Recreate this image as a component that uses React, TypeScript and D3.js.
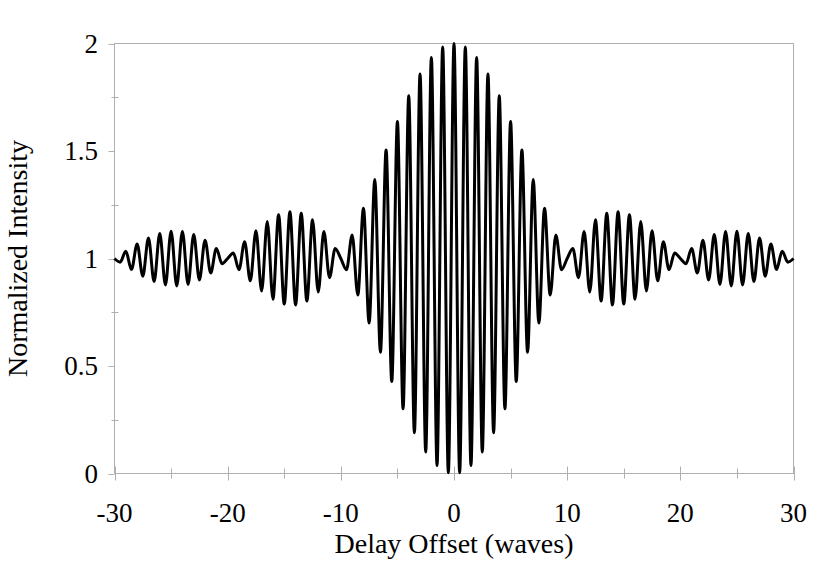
import React from 'react';
import * as d3 from 'd3';

// delay offsets (waves), sampled every half wave from -30 to 30
const delayOffsets: number[] = d3.range(-30, 30.25, 0.5);

const intensity: number[] = [
  1.000, 0.983, 1.034, 0.949, 1.067, 0.918, 1.095, 0.893, 1.116, 0.877,
  1.127, 0.872, 1.126, 0.879, 1.112, 0.900, 1.085, 0.933, 1.047, 0.976,
  1.000, 1.026, 0.948, 1.078, 0.896, 1.129, 0.849, 1.172, 0.811, 1.203,
  0.788, 1.217, 0.784, 1.210, 0.802, 1.180, 0.844, 1.126, 0.911, 1.047,
  1.000, 0.948, 1.109, 0.830, 1.234, 0.700, 1.368, 0.564, 1.505, 0.428,
  1.637, 0.301, 1.757, 0.190, 1.858, 0.100, 1.935, 0.037, 1.984, 0.004,
  2.000,
  0.004, 1.984, 0.037, 1.935, 0.100, 1.858, 0.190, 1.757, 0.301, 1.637,
  0.428, 1.505, 0.564, 1.368, 0.700, 1.234, 0.830, 1.109, 0.948, 1.000,
  1.047, 0.911, 1.126, 0.844, 1.180, 0.802, 1.210, 0.784, 1.217, 0.788,
  1.203, 0.811, 1.172, 0.849, 1.129, 0.896, 1.078, 0.948, 1.026, 1.000,
  0.976, 1.047, 0.933, 1.085, 0.900, 1.112, 0.879, 1.126, 0.872, 1.127,
  0.877, 1.116, 0.893, 1.095, 0.918, 1.067, 0.949, 1.034, 0.983, 1.000,
];

const xTicks = [-30, -20, -10, 0, 10, 20, 30];
const xMinorTicks = [-25, -15, -5, 5, 15, 25];
const yTicks = [0, 0.5, 1, 1.5, 2];
const yMinorTicks = [0.25, 0.75, 1.25, 1.75];

const W = 830;
const H = 569;
const left = 114.5;
const right = 793.5;
const top = 43.5;
const bottom = 473.5;
const font = '"Liberation Serif", "Times New Roman", serif';
const frame = '#b0b0b0';

const App = () => {
  const x = d3.scaleLinear().domain([-30, 30]).range([left, right]);
  const y = d3.scaleLinear().domain([0, 2]).range([bottom, top]);

  const points = delayOffsets.map((d, i) => ({ d, v: intensity[i] }));
  const line = d3.line<{ d: number; v: number }>()
    .x(p => x(p.d))
    .y(p => y(p.v))
    .curve(d3.curveMonotoneX);

  return (
    <svg width={W} height={H} style={{ position: 'absolute', left: 0, top: 0, background: '#fff' }}>
      {/* plot frame */}
      <rect x={left} y={top} width={right - left} height={bottom - top} fill="none" stroke={frame} strokeWidth={1} />

      {/* x ticks */}
      {xTicks.map(t => (
        <line key={'xt' + t} x1={Math.round(x(t)) + 0.5} x2={Math.round(x(t)) + 0.5} y1={bottom - 7} y2={bottom + 7} stroke={frame} />
      ))}
      {xMinorTicks.map(t => (
        <line key={'xm' + t} x1={Math.round(x(t)) + 0.5} x2={Math.round(x(t)) + 0.5} y1={bottom - 5} y2={bottom + 5} stroke={frame} />
      ))}
      {/* y ticks */}
      {yTicks.map(t => (
        <line key={'yt' + t} x1={left - 6} x2={left} y1={Math.round(y(t)) + 0.5} y2={Math.round(y(t)) + 0.5} stroke={frame} />
      ))}
      {yMinorTicks.map(t => (
        <line key={'ym' + t} x1={left - 3} x2={left + 4} y1={Math.round(y(t)) + 0.5} y2={Math.round(y(t)) + 0.5} stroke={frame} />
      ))}

      {/* fringe curve */}
      <path d={line(points) || ''} fill="none" stroke="#000" strokeWidth={3} strokeLinejoin="round" />

      {/* tick labels */}
      {xTicks.map(t => (
        <text key={'xl' + t} x={x(t)} y={522} textAnchor="middle" fontFamily={font} fontSize={27} fill="#000">
          {t}
        </text>
      ))}
      {yTicks.map(t => (
        <text key={'yl' + t} x={98} y={y(t) + 9} textAnchor="end" fontFamily={font} fontSize={27} fill="#000">
          {t}
        </text>
      ))}

      {/* axis titles */}
      <text x={(left + right) / 2} y={553} textAnchor="middle" fontFamily={font} fontSize={28} fill="#000">
        Delay Offset (waves)
      </text>
      <text transform={`translate(27,${(top + bottom) / 2}) rotate(-90)`} textAnchor="middle" fontFamily={font} fontSize={28} fill="#000">
        Normalized Intensity
      </text>
    </svg>
  );
};

export default App;
